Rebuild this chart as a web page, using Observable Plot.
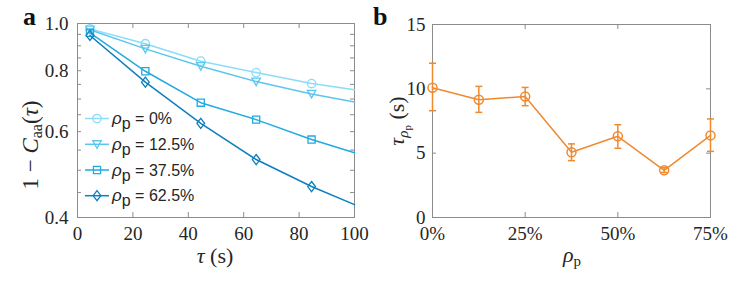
<!DOCTYPE html>
<html><head><meta charset="utf-8">
<script src="https://cdn.jsdelivr.net/npm/d3@7"></script>
<script src="https://cdn.jsdelivr.net/npm/@observablehq/plot@0.6"></script>
<style>
body{margin:0;background:#fff}
#root{position:relative;width:747px;height:294px;overflow:hidden;background:#fff}
.panel{position:absolute;top:0}
</style>
</head><body><div id="root"></div>
<script>
// ---------- Panel a data ----------
const tau = [4.5, 24.5, 44.5, 64.5, 84.5, 100]; // last value: where each curve leaves the frame (no marker)
const seriesLabels = ["0%", "12.5%", "37.5%", "62.5%"];
const curveP0 = [0.975, 0.909, 0.837, 0.793, 0.753, 0.731];
const curveP12 = [0.971, 0.887, 0.817, 0.760, 0.717, 0.690];
const curveP37 = [0.957, 0.798, 0.688, 0.635, 0.578, 0.543];
const curveP62 = [0.945, 0.758, 0.624, 0.526, 0.463, 0.425];
const xTicksA = [0, 20, 40, 60, 80, 100];
const yLabelsA = [0.4, 0.6, 0.8, 1.0];
const yTicksA = [0.45, 0.5, 0.55, 0.6, 0.65, 0.7, 0.75, 0.8, 0.85, 0.9, 0.95];

// ---------- Panel b data ----------
const rhoP = [0, 12.5, 25, 37.5, 50, 62.5, 75];
const tauRho = [10.09, 9.15, 9.41, 5.07, 6.31, 3.67, 6.38];
const errLow = [8.30, 8.17, 8.69, 4.42, 5.38, 3.50, 5.14];
const errHigh = [11.99, 10.19, 10.11, 5.72, 7.21, 3.87, 7.66];
const xTicksB = [0, 25, 50, 75];
const yTicksB = [0, 5, 10, 15];

// ---------- styles ----------
const blues = ["#8adcf7", "#5cc6ee", "#21abdf", "#0e7fbd"];
const orange = "#ef8a2f";
const axisGray = "#8c8c8c";
const ink = "#262626";
const serif = "Liberation Serif";
const sans = "Liberation Sans";

// custom marker symbols
const symCircle = {draw(ctx, size){ const r = Math.sqrt(size/Math.PI); ctx.moveTo(r,0); ctx.arc(0,0,r,0,2*Math.PI); }};
const symTriDown = {draw(ctx, size){ const r = Math.sqrt(size/Math.PI); ctx.moveTo(-r,-0.85*r); ctx.lineTo(r,-0.85*r); ctx.lineTo(0,0.95*r); ctx.closePath(); }};
const symSquare = {draw(ctx, size){ const h = 0.85*Math.sqrt(size/Math.PI); ctx.rect(-h,-h,2*h,2*h); }};
const symDiamond = {draw(ctx, size){ const r = Math.sqrt(size/Math.PI); ctx.moveTo(0,-1.2*r); ctx.lineTo(0.92*r,0); ctx.lineTo(0,1.2*r); ctx.lineTo(-0.92*r,0); ctx.closePath(); }};
const symCap = {draw(ctx, size){ ctx.moveTo(-3.5,0); ctx.lineTo(3.5,0); }};
const symbols = [symCircle, symTriDown, symSquare, symDiamond];
const curves = [curveP0, curveP12, curveP37, curveP62];

const rowsA = [];
curves.forEach((c, s) => c.forEach((v, i) => rowsA.push({tau: tau[i], value: v, s, marker: i < 5})));

const tickText = {tickSize: 0, label: null, fontSize: 19, fill: ink, fontFamily: serif};

// ---------- Panel a ----------
const WA = 370, HA = 294, mlA = 77, mrA = 16, mtA = 23, mbA = 77;
const iwA = WA - mlA - mrA, ihA = HA - mtA - mbA;
const marksA = [
  Plot.frame({stroke: axisGray, strokeWidth: 1}),
  Plot.tickX(xTicksA.slice(1, -1), {x: d => d, insetTop: ihA - 5, stroke: axisGray}),
  Plot.tickX(xTicksA.slice(1, -1), {x: d => d, insetBottom: ihA - 5, stroke: axisGray}),
  Plot.tickY(yTicksA, {y: d => d, insetRight: iwA - 4, stroke: axisGray}),
  Plot.tickY(yTicksA, {y: d => d, insetLeft: iwA - 4, stroke: axisGray}),
  Plot.axisX(xTicksA, {...tickText, tickPadding: 9}),
  Plot.text(yLabelsA, {y: d => d, frameAnchor: "left", dx: -9, textAnchor: "end", lineAnchor: "middle",
    text: d => d3.format(".1f")(d), fontSize: 19, fontFamily: serif, fill: ink})
];
curves.forEach((c, s) => {
  const data = rowsA.filter(d => d.s === s);
  marksA.push(Plot.line(data, {x: "tau", y: "value", stroke: blues[s], strokeWidth: 1.5}));
  marksA.push(Plot.dot(data.filter(d => d.marker), {x: "tau", y: "value", r: 4.2, symbol: symbols[s], stroke: blues[s], fill: "none", strokeWidth: 1.3}));
});
const svgA = Plot.plot({
  width: WA, height: HA, marginLeft: mlA, marginRight: mrA, marginTop: mtA, marginBottom: mbA,
  style: {background: "transparent", overflow: "visible"},
  x: {domain: [0, 100]},
  y: {type: "log", domain: [0.4, 1.0], axis: null},
  marks: marksA
});

// ---------- Panel b ----------
const WB = 377, HB = 294, mlB = 62, mrB = 37, mtB = 24, mbB = 77;
const iwB = WB - mlB - mrB, ihB = HB - mtB - mbB;
const rowsB = rhoP.map((x, i) => ({x, y: tauRho[i], lo: errLow[i], hi: errHigh[i]}));
const svgB = Plot.plot({
  width: WB, height: HB, marginLeft: mlB, marginRight: mrB, marginTop: mtB, marginBottom: mbB,
  style: {background: "transparent", overflow: "visible"},
  x: {domain: [0, 75]},
  y: {domain: [0, 15]},
  marks: [
    Plot.frame({stroke: axisGray, strokeWidth: 1}),
    Plot.tickX(xTicksB.slice(1, -1), {x: d => d, insetTop: ihB - 5, stroke: axisGray}),
    Plot.tickX(xTicksB.slice(1, -1), {x: d => d, insetBottom: ihB - 5, stroke: axisGray}),
    Plot.tickY(yTicksB.slice(1, -1), {y: d => d, insetRight: iwB - 4, stroke: axisGray}),
    Plot.tickY(yTicksB.slice(1, -1), {y: d => d, insetLeft: iwB - 4, stroke: axisGray}),
    Plot.axisX(xTicksB, {...tickText, tickPadding: 9, tickFormat: d => d + "%"}),
    Plot.axisY(yTicksB, {...tickText, tickPadding: 7}),
    Plot.line(rowsB, {x: "x", y: "y", stroke: orange, strokeWidth: 1.5}),
    Plot.ruleX(rowsB, {x: "x", y1: "lo", y2: "hi", stroke: orange, strokeWidth: 1.5}),
    Plot.dot(rowsB, {x: "x", y: "lo", symbol: symCap, r: 3, stroke: orange, strokeWidth: 1.5}),
    Plot.dot(rowsB, {x: "x", y: "hi", symbol: symCap, r: 3, stroke: orange, strokeWidth: 1.5}),
    Plot.dot(rowsB, {x: "x", y: "y", r: 4.5, symbol: symCircle, stroke: orange, fill: "none", strokeWidth: 1.5})
  ]
});

// ---------- text overlays ----------
function txt(sel, x, y, family, size) {
  return sel.append("text").attr("x", x).attr("y", y).attr("font-family", family).attr("font-size", size)
    .attr("fill", ink).attr("text-anchor", "start");
}
const a = d3.select(svgA);
txt(a, 23, 25, serif, 26).attr("font-weight", "bold").attr("fill", "#111").text("a");
// y label
const ylA = a.append("text").attr("transform", "translate(30,145) rotate(-90)").attr("text-anchor", "middle").attr("dy", "0.35em")
  .attr("font-family", serif).attr("font-size", 23).attr("fill", ink);
ylA.append("tspan").text("1 − ");
ylA.append("tspan").attr("font-style", "italic").text("C");
ylA.append("tspan").attr("font-size", 16).attr("dy", 4).text("aa");
ylA.append("tspan").attr("dy", -4).text("(");
ylA.append("tspan").attr("font-style", "italic").text("τ");
ylA.append("tspan").text(")");
// x label
const xlA = txt(a, 215, 263, serif, 22).attr("text-anchor", "middle");
xlA.append("tspan").attr("font-style", "italic").text("τ");
xlA.append("tspan").text(" (s)");
// legend
const legendY = [118.5, 144.3, 170, 195.7];
seriesLabels.forEach((lab, s) => {
  const y = legendY[s];
  a.append("line").attr("x1", 85).attr("x2", 109).attr("y1", y).attr("y2", y).attr("stroke", blues[s]).attr("stroke-width", 1.5);
  a.append("path").attr("transform", `translate(97,${y})`).attr("d", d3.symbol().type(symbols[s]).size(Math.PI * 4.2 * 4.2)())
    .attr("fill", "none").attr("stroke", blues[s]).attr("stroke-width", 1.3);
  const t = txt(a, 112, y + 5.5, sans, 16);
  t.append("tspan").attr("font-style", "italic").attr("font-size", 17).text("ρ");
  t.append("tspan").attr("dy", 5).text("p");
  t.append("tspan").attr("dy", -5).text(" = " + lab);
});

const b = d3.select(svgB);
txt(b, 3, 25, serif, 26).attr("font-weight", "bold").attr("fill", "#111").text("b");
const ylB = b.append("text").attr("transform", "translate(26,121) rotate(-90)").attr("text-anchor", "middle").attr("dy", "0.35em")
  .attr("font-family", serif).attr("font-size", 22).attr("fill", ink);
ylB.append("tspan").attr("font-style", "italic").text("τ");
ylB.append("tspan").attr("font-style", "italic").attr("font-size", 15).attr("dy", 4).text("ρ");
ylB.append("tspan").attr("font-size", 11).attr("dy", 3).text("p");
ylB.append("tspan").attr("dy", -7).text(" (s)");
const xlB = txt(b, 202, 262, serif, 22).attr("text-anchor", "middle");
xlB.append("tspan").attr("font-style", "italic").text("ρ");
xlB.append("tspan").attr("font-size", 15).attr("dy", 4).text("p");

// ---------- place ----------
const root = document.getElementById("root");
const pa = document.createElement("div"); pa.className = "panel"; pa.style.left = "0px"; pa.appendChild(svgA);
const pb = document.createElement("div"); pb.className = "panel"; pb.style.left = "370px"; pb.appendChild(svgB);
root.appendChild(pa); root.appendChild(pb);
</script>
</body></html>
